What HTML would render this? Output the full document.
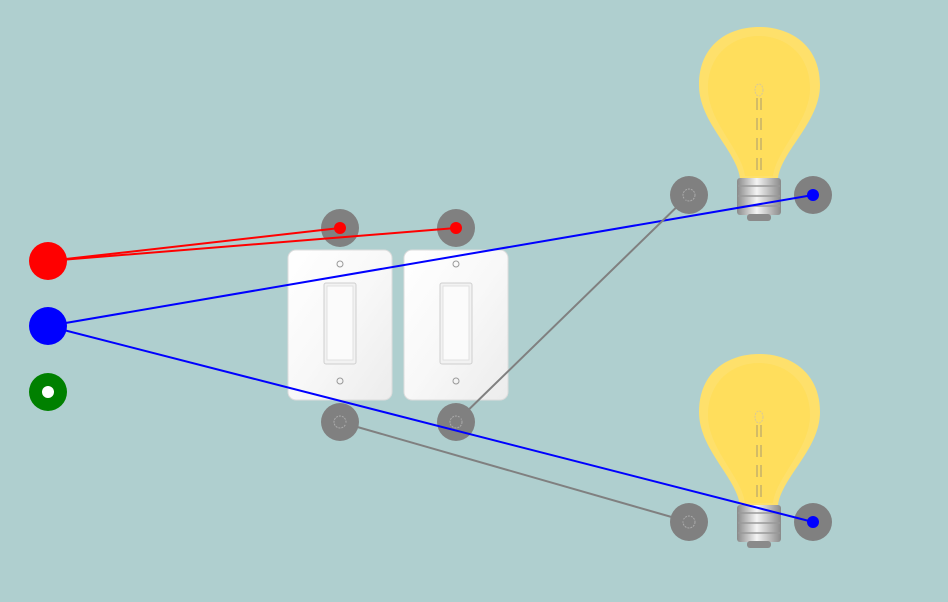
<!DOCTYPE html>
<html><head><meta charset="utf-8">
<style>
html,body{margin:0;padding:0;background:#afcfcf;}
svg{display:block;}
</style></head>
<body>
<svg width="948" height="602" viewBox="0 0 948 602" xmlns="http://www.w3.org/2000/svg">
<defs>
<linearGradient id="plate" x1="0" y1="0" x2="1" y2="1">
<stop offset="0" stop-color="#ffffff"/><stop offset="0.5" stop-color="#f8f8f8"/><stop offset="1" stop-color="#ececec"/>
</linearGradient>
<linearGradient id="base" x1="0" y1="0" x2="1" y2="0">
<stop offset="0" stop-color="#8a8a8a"/><stop offset="0.45" stop-color="#f4f4f4"/><stop offset="1" stop-color="#8a8a8a"/>
</linearGradient>
<g id="bulb">
<path d="M740,178 C736,150 699,122 699,85 C699,45 728,27 759,27 C790,27 820,45 820,85 C820,122 782,150 778,178 Z" fill="#fee06b"/>
<path d="M745,176 C742,150 708,122 708,88 C708,55 732,36 759,36 C786,36 810,55 810,88 C810,122 776,150 773,176 Z" fill="#ffdd55" opacity="0.7"/>
<ellipse cx="759" cy="90" rx="4" ry="6" fill="none" stroke="#d8c89a" stroke-width="1" stroke-dasharray="2,1"/>
<line x1="757" y1="98" x2="757" y2="170" stroke="#a89a70" stroke-width="1" stroke-dasharray="12,8"/>
<line x1="761" y1="98" x2="761" y2="170" stroke="#a89a70" stroke-width="1" stroke-dasharray="12,8"/>
<rect x="737" y="178" width="44" height="37" rx="3" fill="url(#base)"/>
<line x1="738" y1="186" x2="780" y2="186" stroke="#999" stroke-width="1.5"/>
<line x1="738" y1="196" x2="780" y2="196" stroke="#999" stroke-width="1.5"/>
<line x1="738" y1="206" x2="780" y2="206" stroke="#999" stroke-width="1.5"/>
<rect x="747" y="214" width="24" height="7" rx="3" fill="#8a8a8a"/>
</g>
<g id="switch">
<rect x="288" y="250" width="104" height="150" rx="8" fill="url(#plate)" stroke="#dcdcdc"/>
<rect x="324" y="283" width="32" height="81" rx="2" fill="#f2f2f2" stroke="#cfcfcf"/>
<rect x="327" y="286" width="26" height="74" fill="#fbfbfb" stroke="#e0e0e0"/>
<circle cx="340" cy="264" r="3" fill="none" stroke="#999"/>
<circle cx="340" cy="381" r="3" fill="none" stroke="#999"/>
</g>
</defs>

<use href="#bulb"/>
<use href="#bulb" y="327"/>
<use href="#switch"/>
<use href="#switch" x="116"/>

<g fill="#808080">
<circle cx="340" cy="228" r="19"/>
<circle cx="456" cy="228" r="19"/>
<circle cx="340" cy="422" r="19"/>
<circle cx="456" cy="422" r="19"/>
<circle cx="689" cy="195" r="19"/>
<circle cx="813" cy="195" r="19"/>
<circle cx="689" cy="522" r="19"/>
<circle cx="813" cy="522" r="19"/>
</g>
<g fill="none" stroke="#aaa" stroke-width="1" stroke-dasharray="2,1">
<circle cx="340" cy="422" r="6"/><circle cx="456" cy="422" r="6"/>
<circle cx="689" cy="195" r="6"/><circle cx="689" cy="522" r="6"/>
</g>

<g>
<circle cx="48" cy="261" r="19" fill="#ff0000"/>
<circle cx="48" cy="326" r="19" fill="#0000ff"/>
<circle cx="48" cy="392" r="19" fill="#008000"/>
<circle cx="48" cy="392" r="6" fill="#ffffff"/>
</g>

<g stroke-width="2" fill="none">
<line x1="48" y1="261" x2="340" y2="228" stroke="#ff0000"/>
<line x1="48" y1="261" x2="456" y2="228" stroke="#ff0000"/>
<line x1="48" y1="326" x2="813" y2="195" stroke="#0000ff"/>
<line x1="48" y1="326" x2="813" y2="522" stroke="#0000ff"/>
<line x1="456" y1="422" x2="689" y2="195" stroke="#808080"/>
<line x1="340" y1="422" x2="689" y2="522" stroke="#808080"/>
</g>
<circle cx="340" cy="228" r="6" fill="#ff0000"/>
<circle cx="456" cy="228" r="6" fill="#ff0000"/>
<circle cx="813" cy="195" r="6" fill="#0000ff"/>
<circle cx="813" cy="522" r="6" fill="#0000ff"/>
</svg>
</body></html>
